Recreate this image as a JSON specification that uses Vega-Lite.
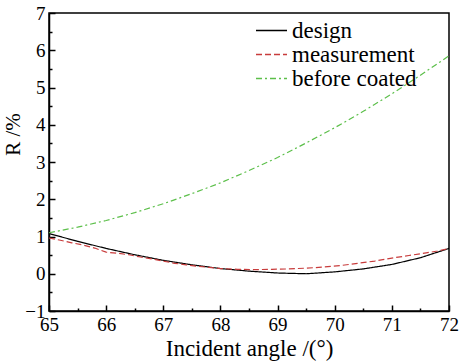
{
  "$schema": "https://vega.github.io/schema/vega-lite/v6.json",
  "width": 400,
  "height": 298,
  "autosize": {"type": "none"},
  "padding": {"left": 49, "top": 13, "right": 11, "bottom": 50},
  "background": "white",
  "config": {
    "view": {"stroke": "black", "strokeWidth": 1.5},
    "font": "Liberation Serif"
  },
  "data": {
    "values": [
      {"angle": 65.0, "R": 1.08, "series": "design"},
      {"angle": 65.5, "R": 0.87, "series": "design"},
      {"angle": 66.0, "R": 0.68, "series": "design"},
      {"angle": 66.5, "R": 0.51, "series": "design"},
      {"angle": 67.0, "R": 0.36, "series": "design"},
      {"angle": 67.5, "R": 0.24, "series": "design"},
      {"angle": 68.0, "R": 0.14, "series": "design"},
      {"angle": 68.5, "R": 0.07, "series": "design"},
      {"angle": 69.0, "R": 0.02, "series": "design"},
      {"angle": 69.5, "R": 0.0, "series": "design"},
      {"angle": 70.0, "R": 0.05, "series": "design"},
      {"angle": 70.5, "R": 0.13, "series": "design"},
      {"angle": 71.0, "R": 0.25, "series": "design"},
      {"angle": 71.5, "R": 0.43, "series": "design"},
      {"angle": 72.0, "R": 0.68, "series": "design"},
      {"angle": 65.0, "R": 0.96, "series": "measurement"},
      {"angle": 65.2, "R": 0.9, "series": "measurement"},
      {"angle": 65.4, "R": 0.83, "series": "measurement"},
      {"angle": 65.6, "R": 0.77, "series": "measurement"},
      {"angle": 65.8, "R": 0.69, "series": "measurement"},
      {"angle": 66.0, "R": 0.58, "series": "measurement"},
      {"angle": 66.2, "R": 0.55, "series": "measurement"},
      {"angle": 66.4, "R": 0.51, "series": "measurement"},
      {"angle": 66.6, "R": 0.45, "series": "measurement"},
      {"angle": 66.8, "R": 0.4, "series": "measurement"},
      {"angle": 67.0, "R": 0.34, "series": "measurement"},
      {"angle": 67.2, "R": 0.28, "series": "measurement"},
      {"angle": 67.4, "R": 0.24, "series": "measurement"},
      {"angle": 67.6, "R": 0.2, "series": "measurement"},
      {"angle": 67.8, "R": 0.17, "series": "measurement"},
      {"angle": 68.0, "R": 0.14, "series": "measurement"},
      {"angle": 68.3, "R": 0.12, "series": "measurement"},
      {"angle": 68.6, "R": 0.11, "series": "measurement"},
      {"angle": 68.9, "R": 0.12, "series": "measurement"},
      {"angle": 69.2, "R": 0.13, "series": "measurement"},
      {"angle": 69.5, "R": 0.15, "series": "measurement"},
      {"angle": 69.8, "R": 0.18, "series": "measurement"},
      {"angle": 70.1, "R": 0.22, "series": "measurement"},
      {"angle": 70.4, "R": 0.28, "series": "measurement"},
      {"angle": 70.7, "R": 0.34, "series": "measurement"},
      {"angle": 71.0, "R": 0.42, "series": "measurement"},
      {"angle": 71.3, "R": 0.49, "series": "measurement"},
      {"angle": 71.6, "R": 0.56, "series": "measurement"},
      {"angle": 71.8, "R": 0.61, "series": "measurement"},
      {"angle": 72.0, "R": 0.68, "series": "measurement"},
      {"angle": 65.0, "R": 1.1, "series": "before coated"},
      {"angle": 65.5, "R": 1.25, "series": "before coated"},
      {"angle": 66.0, "R": 1.43, "series": "before coated"},
      {"angle": 66.5, "R": 1.64, "series": "before coated"},
      {"angle": 67.0, "R": 1.88, "series": "before coated"},
      {"angle": 67.5, "R": 2.15, "series": "before coated"},
      {"angle": 68.0, "R": 2.44, "series": "before coated"},
      {"angle": 68.5, "R": 2.77, "series": "before coated"},
      {"angle": 69.0, "R": 3.12, "series": "before coated"},
      {"angle": 69.5, "R": 3.51, "series": "before coated"},
      {"angle": 70.0, "R": 3.92, "series": "before coated"},
      {"angle": 70.5, "R": 4.36, "series": "before coated"},
      {"angle": 71.0, "R": 4.83, "series": "before coated"},
      {"angle": 71.5, "R": 5.33, "series": "before coated"},
      {"angle": 72.0, "R": 5.85, "series": "before coated"}
    ]
  },
  "mark": {"type": "line", "strokeWidth": 1.2},
  "encoding": {
    "x": {
      "field": "angle",
      "type": "quantitative",
      "scale": {"domain": [65, 72], "nice": false, "zero": false},
      "axis": {
        "title": "Incident angle /(°)",
        "format": "~g",
        "values": [65, 65.5, 66, 66.5, 67, 67.5, 68, 68.5, 69, 69.5, 70, 70.5, 71, 71.5, 72],
        "labelExpr": "datum.value % 1 === 0 ? datum.label : ''",
        "grid": false,
        "domainColor": "black",
        "domainWidth": 1.5,
        "tickColor": "black",
        "tickWidth": 1.5,
        "tickSize": {"condition": {"test": "datum.value % 1 === 0", "value": -6}, "value": -3},
        "labelPadding": 10,
        "labelFont": "Liberation Serif",
        "labelFontSize": 19,
        "labelColor": "black",
        "labelFlush": false,
        "labelOverlap": false,
        "titleFont": "Liberation Serif",
        "titleFontSize": 23,
        "titleFontWeight": "normal",
        "titleColor": "black",
        "titlePadding": 0
      }
    },
    "y": {
      "field": "R",
      "type": "quantitative",
      "scale": {"domain": [-1, 7], "nice": false, "zero": false},
      "axis": {
        "title": "R /%",
        "format": "~g",
        "values": [-1, -0.5, 0, 0.5, 1, 1.5, 2, 2.5, 3, 3.5, 4, 4.5, 5, 5.5, 6, 6.5, 7],
        "labelExpr": "datum.value % 1 === 0 ? datum.label : ''",
        "grid": false,
        "domainColor": "black",
        "domainWidth": 1.5,
        "tickColor": "black",
        "tickWidth": 1.5,
        "tickSize": {"condition": {"test": "datum.value % 1 === 0", "value": -6}, "value": -3},
        "labelPadding": 10,
        "labelFont": "Liberation Serif",
        "labelFontSize": 19,
        "labelColor": "black",
        "labelFlush": false,
        "labelOverlap": false,
        "titleFont": "Liberation Serif",
        "titleFontSize": 21,
        "titleFontWeight": "normal",
        "titleColor": "black",
        "titleX": -36,
        "titleY": 121,
        "titleBaseline": "middle",
        "titleAlign": "center"
      }
    },
    "color": {
      "field": "series",
      "type": "nominal",
      "scale": {"domain": ["design", "measurement", "before coated"], "range": ["#000000", "#c83c3c", "#5cbf4a"]},
      "legend": {
        "title": null,
        "orient": "none",
        "legendX": 211,
        "legendY": 6,
        "symbolType": "M-1.55,0L1.55,0",
        "symbolSize": 400,
        "symbolStrokeWidth": 1.4,
        "labelFont": "Liberation Serif",
        "labelFontSize": 23,
        "labelColor": "black",
        "labelOffset": 9,
        "rowPadding": -5
      }
    },
    "strokeDash": {
      "field": "series",
      "type": "nominal",
      "scale": {"domain": ["design", "measurement", "before coated"], "range": [[1, 0], [6, 3], [6, 3, 2, 3]]}
    }
  }
}
